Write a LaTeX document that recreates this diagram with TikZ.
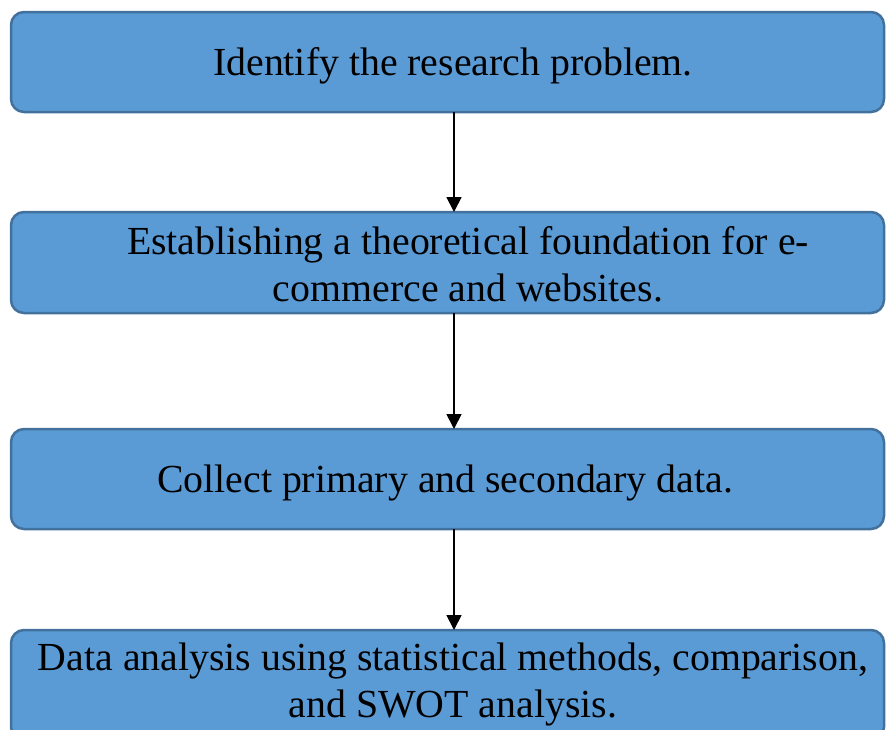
\documentclass[tikz,border=0pt]{standalone}
\usepackage{fontspec}
\setmainfont{Liberation Serif}
\usetikzlibrary{arrows.meta}
\definecolor{boxfill}{HTML}{5B9BD5}
\definecolor{boxline}{HTML}{41719C}
\begin{document}
\begin{tikzpicture}[x=1pt,y=-1pt,
  stepbox/.style={draw=boxline,fill=boxfill,line width=2.5pt,rounded corners=13pt},
  label/.style={font=\fontsize{39.8}{47}\selectfont,align=center,inner sep=0pt},
  flow/.style={line width=1.8pt,-{Triangle[width=15pt,length=15pt]}}]
\useasboundingbox (0,0) rectangle (886,729);
% process boxes
\draw[stepbox] (11,12) rectangle (884,112);
\draw[stepbox] (11,212) rectangle (884,313);
\draw[stepbox] (11,429) rectangle (884,529);
\draw[stepbox] (11,630) rectangle (884,740);
\coordinate (b1) at (454,112);
\coordinate (t2) at (454,212);
\coordinate (b2) at (454,313);
\coordinate (t3) at (454,429);
\coordinate (b3) at (454,529);
\coordinate (t4) at (454,630);
% labels
\node[label] (l1) at (453,66) {Identify the research problem.};
\node[label] (l2) at (468,264) {Establishing a theoretical foundation for e-\\commerce and websites.};
\node[label] (l3) at (445,483) {Collect primary and secondary data.};
\node[label] (l4) at (453,684) {Data analysis using statistical methods, comparison,\\and SWOT analysis.};
% connectors
\draw[flow] (b1) -- (t2);
\draw[flow] (b2) -- (t3);
\draw[flow] (b3) -- (t4);
\end{tikzpicture}
\end{document}
